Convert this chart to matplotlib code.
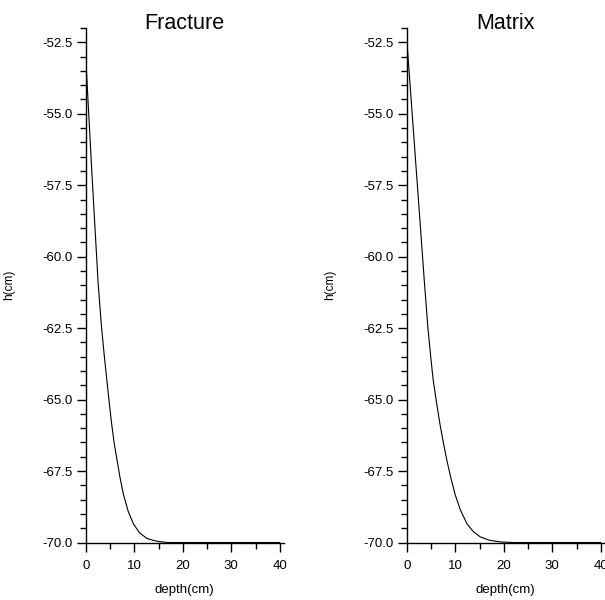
import matplotlib.pyplot as plt
from matplotlib.ticker import MultipleLocator

plt.rcParams['font.family'] = ['Liberation Sans', 'DejaVu Sans']

# fracture pressure head profile
frac_depth = [0, 1.2, 2.5, 3.2, 3.8, 4.3, 4.8, 5.3, 5.8, 6.4, 7.0, 7.7, 8.7, 9.8, 11.0, 12.6,
              14.5, 16.7, 20, 40]
frac_h = [-53.2, -57.0, -60.9, -62.45, -63.5, -64.3, -65.1, -65.85, -66.5, -67.1, -67.7,
          -68.3, -68.9, -69.35, -69.65, -69.86, -69.95, -70.0, -70.0, -70.0]

# matrix pressure head profile
mat_depth = [0, 1.8, 3.6, 4.3, 4.9, 5.4, 6.1, 6.8, 7.5, 8.2, 9.0, 9.9, 11.0, 12.4, 13.7,
             15.1, 17.0, 19.3, 22, 40]
mat_h = [-52.5, -56.7, -60.9, -62.45, -63.5, -64.3, -65.1, -65.85, -66.5, -67.1, -67.7,
         -68.3, -68.85, -69.35, -69.62, -69.8, -69.92, -69.98, -70.0, -70.0]

titles = ['Fracture', 'Matrix']
xticks = [0, 10, 20, 30, 40]
yticks = [-70.0, -67.5, -65.0, -62.5, -60.0, -57.5, -55.0, -52.5]

fig = plt.figure(figsize=(6.05, 6.0), dpi=100)
ax1 = fig.add_axes([0.1421, 0.0958, 0.3267, 0.8575])
ax2 = fig.add_axes([0.6727, 0.0958, 0.3267, 0.8575])

for ax, title, d, h in [(ax1, titles[0], frac_depth, frac_h),
                        (ax2, titles[1], mat_depth, mat_h)]:
    ax.plot(d, h, color='black', lw=0.8)
    ax.set_xlim(0, 40.8)
    ax.set_ylim(-70, -52)
    ax.set_xticks(xticks)
    ax.set_yticks(yticks)
    ax.set_yticklabels([f'{v:.1f}' for v in yticks])
    ax.xaxis.set_minor_locator(MultipleLocator(5))
    ax.yaxis.set_minor_locator(MultipleLocator(0.5))
    ax.tick_params(which='major', length=6.5, width=1, labelsize=9.5)
    ax.tick_params(axis='y', which='major', pad=3)
    ax.tick_params(axis='x', which='major', pad=6)
    ax.tick_params(which='minor', length=4.3, width=1)
    for s in ['top', 'right']:
        ax.spines[s].set_visible(False)
    for s in ['left', 'bottom']:
        ax.spines[s].set_linewidth(1)
    ax.set_title(title, fontsize=15.5, y=1.0, pad=-1)
    ax.set_xlabel('depth(cm)', fontsize=9.5, labelpad=9)
    ax.set_ylabel('h(cm)', fontsize=8.5)
    ax.yaxis.set_label_coords(-0.36, 0.5)

fig.savefig('out.png', dpi=100)
